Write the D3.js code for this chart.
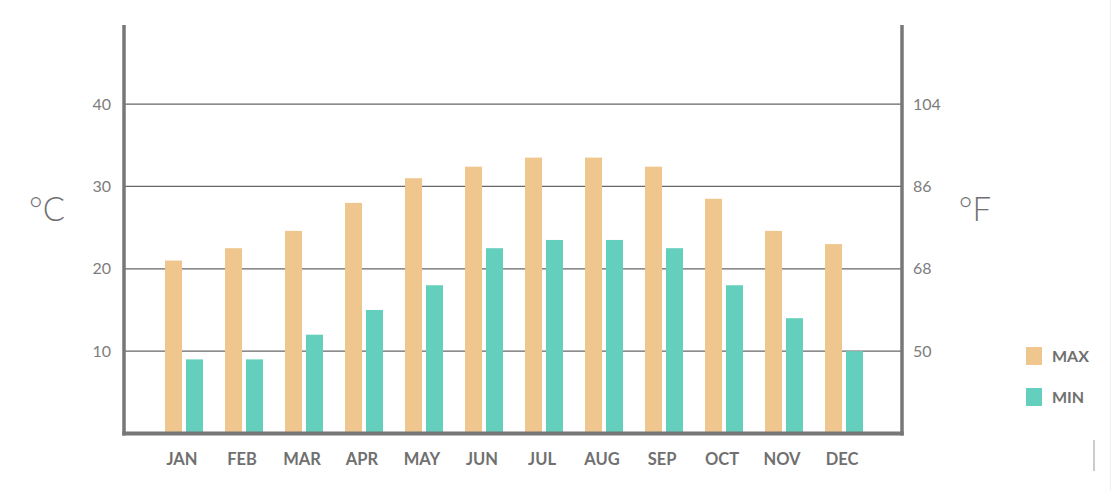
<!DOCTYPE html>
<html><head><meta charset="utf-8">
<script src="https://cdn.jsdelivr.net/npm/d3@7/dist/d3.min.js"></script>
<style>html,body{margin:0;padding:0;background:#fff;}svg{display:block;}</style>
</head><body>
<svg id="c" width="1112" height="491"></svg>
<script>
const months = ["JAN","FEB","MAR","APR","MAY","JUN","JUL","AUG","SEP","OCT","NOV","DEC"];
const maxC = [21, 22.5, 24.6, 28, 31, 32.4, 33.5, 33.5, 32.4, 28.5, 24.6, 23];
const minC = [9, 9, 12, 15, 18, 22.5, 23.5, 23.5, 22.5, 18, 14, 10];
const cTicks = [10, 20, 30, 40];
const fTicks = [50, 68, 86, 104];
const seriesNames = ["MAX", "MIN"];
const colors = ["#efc78e", "#64cfbd"];

const svg = d3.select("#c");
const L = 124, R = 902, T = 25, B = 433.5;
const y = d3.scaleLinear().domain([0, 49.6]).range([B, T]);
const yF = d3.scaleLinear().domain([32, 49.6*1.8+32]).range([B, T]);
const x = d3.scaleBand().domain(months).range([154, 874]).padding(0);
const sub = d3.scaleBand().domain(seriesNames).range([-19, 19]).paddingInner(0.1875);

// gridlines
svg.append("g").selectAll("line").data(cTicks).join("line")
  .attr("x1", L).attr("x2", R).attr("y1", d => y(d)).attr("y2", d => y(d))
  .attr("stroke", "#666").attr("stroke-width", 1.2);

// bars
const data = months.map((m, i) => ({m, vals: [maxC[i], minC[i]]}));
const g = svg.append("g").selectAll("g").data(data).join("g")
  .attr("transform", d => `translate(${x(d.m) + x.bandwidth()/2},0)`);
g.selectAll("rect").data(d => d.vals.map((v, j) => ({v, s: seriesNames[j], j}))).join("rect")
  .attr("x", d => sub(d.s)).attr("width", sub.bandwidth())
  .attr("y", d => y(d.v)).attr("height", d => B - y(d.v))
  .attr("fill", d => colors[d.j]);

// axes lines
svg.append("line").attr("x1", L).attr("x2", L).attr("y1", T).attr("y2", B + 2)
  .attr("stroke", "#777").attr("stroke-width", 3.5);
svg.append("line").attr("x1", R).attr("x2", R).attr("y1", T).attr("y2", B + 2)
  .attr("stroke", "#777").attr("stroke-width", 3.5);
svg.append("line").attr("x1", L - 1.75).attr("x2", R + 1.75).attr("y1", B).attr("y2", B)
  .attr("stroke", "#777").attr("stroke-width", 4);

// left tick labels
const font = "Lato, 'Open Sans', sans-serif";
const leftAxis = d3.axisLeft(y).tickValues(cTicks).tickSize(0).tickPadding(0);
const la = svg.append("g").attr("transform", `translate(111,0)`).call(leftAxis);
la.select(".domain").remove();
la.selectAll("text").attr("font-family", font).attr("font-size", 16).attr("fill", "#7d7d7d");

const rightAxis = d3.axisRight(yF).tickValues(fTicks).tickSize(0).tickPadding(0);
const ra = svg.append("g").attr("transform", `translate(913,0)`).call(rightAxis);
ra.select(".domain").remove();
ra.selectAll("text").attr("font-family", font).attr("font-size", 16).attr("fill", "#7d7d7d");

// month labels
const bx = d3.axisBottom(x).tickSize(0).tickPadding(0);
const ba = svg.append("g").attr("transform", `translate(-2,453)`).call(bx);
ba.select(".domain").remove();
ba.selectAll("text").attr("font-family", font).attr("font-size", 16.5).attr("font-weight", "bold")
  .attr("fill", "#707070").attr("dy", "0.71em");

// unit labels
svg.append("text").attr("x", 47).attr("y", 221).attr("text-anchor", "middle")
  .attr("font-family", font).attr("font-size", 33).attr("font-weight", 300).attr("fill", "#707070").text("°C");
svg.append("text").attr("x", 975).attr("y", 221).attr("text-anchor", "middle")
  .attr("font-family", font).attr("font-size", 33).attr("font-weight", 300).attr("fill", "#707070").text("°F");

// legend
const lg = svg.append("g").selectAll("g").data(seriesNames).join("g")
  .attr("transform", (d, i) => `translate(1026,${347 + i*41})`);
lg.append("rect").attr("width", 16).attr("height", 18).attr("fill", (d, i) => colors[i]);
lg.append("text").attr("x", 26).attr("y", 9).attr("dy", "0.36em")
  .attr("font-family", font).attr("font-size", 16).attr("font-weight", "bold").attr("fill", "#707070")
  .text(d => d);

// decorative scroll marks
svg.append("line").attr("x1", 1094).attr("x2", 1094).attr("y1", 440).attr("y2", 471)
  .attr("stroke", "#ccc").attr("stroke-width", 2);
svg.append("line").attr("x1", 1110.5).attr("x2", 1110.5).attr("y1", 0).attr("y2", 491)
  .attr("stroke", "#f0f0f0").attr("stroke-width", 1);
</script>
</body></html>
